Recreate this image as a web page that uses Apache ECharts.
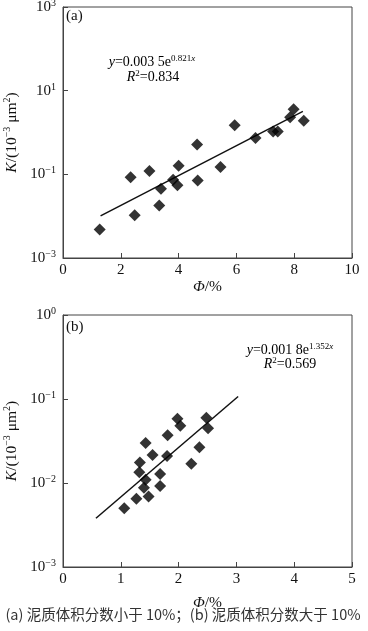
<!DOCTYPE html>
<html>
<head>
<meta charset="utf-8">
<script src="https://cdn.jsdelivr.net/npm/echarts@6/dist/echarts.min.js"></script>
<style>
html,body{margin:0;padding:0;background:#fff;}
#c{width:368px;height:631px;}
</style>
</head>
<body>
<div id="c"></div>
<script>
// ---- data (a) ----
const phiA = [1.27, 2.34, 2.48, 2.99, 3.33, 3.39, 3.81, 3.96, 4.00, 4.64, 4.66, 5.45, 5.94, 6.66, 7.27, 7.43, 7.86, 7.98, 8.33];
const kA   = [0.0048, 0.085, 0.0105, 0.12, 0.018, 0.045, 0.074, 0.055, 0.16, 0.52, 0.071, 0.15, 1.5, 0.74, 1.05, 1.05, 2.3, 3.6, 1.9];
const fitPhiA = [1.3, 8.3];
const fitKA   = [0.0102, 3.19];
// ---- data (b) ----
const phiB = [1.06, 1.27, 1.33, 1.32, 1.43, 1.43, 1.40, 1.48, 1.55, 1.68, 1.68, 1.81, 1.80, 1.98, 2.03, 2.22, 2.36, 2.48, 2.51];
const kB   = [0.0050, 0.0065, 0.0175, 0.0134, 0.030, 0.0109, 0.0088, 0.0069, 0.0215, 0.0128, 0.0092, 0.037, 0.021, 0.058, 0.048, 0.017, 0.0266, 0.060, 0.045];
const fitPhiB = [0.57, 3.03];
const fitKB   = [0.0038, 0.107];
// ---- axes / text ----
const xTicksA = [0, 2, 4, 6, 8, 10];
const xTicksB = [0, 1, 2, 3, 4, 5];
const yExpA = [-3, -1, 1, 3];
const yExpB = [-3, -2, -1, 0];
const eqA = ['0.003 5e', '0.821', '0.834'];
const eqB = ['0.001 8e', '1.352', '0.569'];
const caption = '(a) 泥质体积分数小于 10%；(b) 泥质体积分数大于 10%';

const SERIF = 'Liberation Serif, Times New Roman, serif';
const C = '#111';
const AX = '#444';

function mkRich(fs, ss){
  return {
    n: {fontFamily: SERIF, fontSize: fs, color: C, lineHeight: fs + 2},
    i: {fontFamily: SERIF, fontSize: fs, color: C, fontStyle: 'italic', lineHeight: fs + 2},
    s: {fontFamily: SERIF, fontSize: ss, color: C, verticalAlign: 'top', lineHeight: ss + 1},
    si: {fontFamily: SERIF, fontSize: ss, color: C, fontStyle: 'italic', verticalAlign: 'top', lineHeight: ss + 1}
  };
}
const richAx = mkRich(15, 10);
const richName = mkRich(15.5, 10);
const richEq = mkRich(14, 9);

function supStr(e){ return (e < 0 ? '\u2212' + Math.abs(e) : String(e)); }
function yFmt(exps){
  return function(v){
    const e = Math.round(Math.log10(v));
    if (exps.indexOf(e) < 0) return '';
    return '{n|10}{s|' + supStr(e) + '}';
  };
}
function xFmt(ticks){
  return function(v){ return ticks.indexOf(v) >= 0 ? String(v) : ''; };
}
const yName = '{i|K}{n|/(10}{s|\u22123}{n| \u03bcm}{s|2}{n|)}';
const xName = '{i|\u03a6}{n|/%}';

function zip(a, b){ return a.map((v, i) => [v, b[i]]); }

function mkX(idx, ticks, gap){
  return {
    gridIndex: idx, type: 'value', min: ticks[0], max: ticks[ticks.length-1], interval: ticks[1]-ticks[0],
    axisLine: {show: true, lineStyle: {color: AX, width: 1}},
    axisTick: {show: true, inside: true, length: 5, lineStyle: {color: AX}},
    splitLine: {show: false},
    axisLabel: {formatter: xFmt(ticks), fontFamily: SERIF, fontSize: 15, color: C, margin: 5},
    name: xName, nameLocation: 'middle', nameGap: gap,
    nameTextStyle: {rich: richName}
  };
}
function mkY(idx, exps){
  return {
    gridIndex: idx, type: 'log', logBase: 10,
    min: Math.pow(10, exps[0]), max: Math.pow(10, exps[exps.length-1]),
    interval: exps[1]-exps[0],
    axisLine: {show: true, lineStyle: {color: AX, width: 1}},
    axisTick: {show: true, inside: true, length: 5, lineStyle: {color: AX}},
    minorTick: {show: false},
    splitLine: {show: false},
    axisLabel: {formatter: yFmt(exps), rich: richAx, margin: 7},
    name: yName, nameLocation: 'middle', nameGap: 37,
    nameTextStyle: {rich: richName}
  };
}

const chart = echarts.init(document.getElementById('c'), null, {renderer: 'canvas'});
chart.setOption({
  animation: false,
  backgroundColor: '#fff',
  grid: [
    {left: 63, top: 7, width: 289, height: 251, containLabel: false, outerBoundsMode: 'none', show: true, borderColor: AX, borderWidth: 1, backgroundColor: 'transparent'},
    {left: 63, top: 315, width: 289, height: 252, containLabel: false, outerBoundsMode: 'none', show: true, borderColor: AX, borderWidth: 1, backgroundColor: 'transparent'}
  ],
  xAxis: [mkX(0, xTicksA, 18), mkX(1, xTicksB, 27)],
  yAxis: [mkY(0, yExpA), mkY(1, yExpB)],
  series: [
    {type: 'line', xAxisIndex: 0, yAxisIndex: 0, data: zip(fitPhiA, fitKA), symbol: 'none', lineStyle: {color: C, width: 1.5}, z: 2},
    {type: 'scatter', xAxisIndex: 0, yAxisIndex: 0, data: zip(phiA, kA), symbol: 'diamond', symbolSize: 12, itemStyle: {color: '#000'}, z: 3},
    {type: 'line', xAxisIndex: 1, yAxisIndex: 1, data: zip(fitPhiB, fitKB), symbol: 'none', lineStyle: {color: C, width: 1.5}, z: 2},
    {type: 'scatter', xAxisIndex: 1, yAxisIndex: 1, data: zip(phiB, kB), symbol: 'diamond', symbolSize: 12, itemStyle: {color: '#000'}, z: 3}
  ],
  graphic: [
    {type: 'text', x: 66, y: 16, style: {text: '(a)', font: '15px ' + SERIF, fill: C, verticalAlign: 'middle'}},
    {type: 'text', x: 66, y: 327, style: {text: '(b)', font: '15px ' + SERIF, fill: C, verticalAlign: 'middle'}},
    {type: 'text', x: 152, y: 62, style: {text: '{i|y}{n|=' + eqA[0] + '}{s|' + eqA[1] + '}{si|x}', rich: richEq, align: 'center', verticalAlign: 'middle'}},
    {type: 'text', x: 153, y: 77, style: {text: '{i|R}{s|2}{n|=' + eqA[2] + '}', rich: richEq, align: 'center', verticalAlign: 'middle'}},
    {type: 'text', x: 290, y: 350, style: {text: '{i|y}{n|=' + eqB[0] + '}{s|' + eqB[1] + '}{si|x}', rich: richEq, align: 'center', verticalAlign: 'middle'}},
    {type: 'text', x: 290, y: 364, style: {text: '{i|R}{s|2}{n|=' + eqB[2] + '}', rich: richEq, align: 'center', verticalAlign: 'middle'}},
    {type: 'text', x: 183, y: 614, style: {text: caption, font: '14.5px Noto Sans CJK SC, sans-serif', fill: '#333', align: 'center', verticalAlign: 'middle'}}
  ]
});
</script>
</body>
</html>
